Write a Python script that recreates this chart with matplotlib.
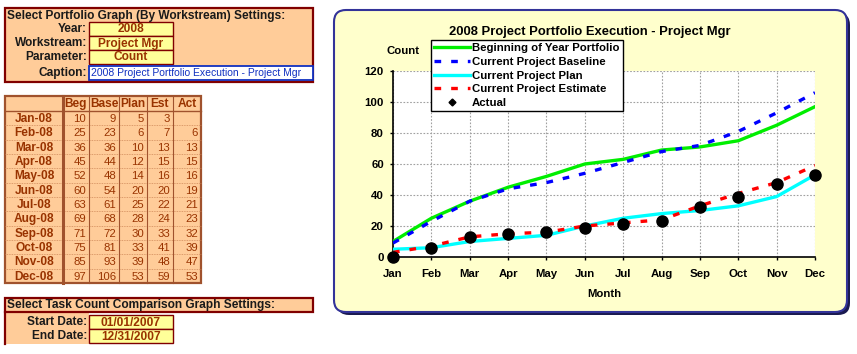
import matplotlib
matplotlib.use("Agg")
import matplotlib.pyplot as plt
from matplotlib.patches import Rectangle, FancyBboxPatch
from matplotlib.lines import Line2D

# settings shown in the left panel
year = "2008"
workstream = "Project Mgr"
parameter = "Count"
start_date = "01/01/2007"
end_date = "12/31/2007"
caption = f"{year} Project Portfolio Execution - {workstream}"

# table / chart data
months = ["Jan", "Feb", "Mar", "Apr", "May", "Jun", "Jul", "Aug", "Sep", "Oct", "Nov", "Dec"]
row_labels = [m + "-08" for m in months]
col_names = ["Beg", "Base", "Plan", "Est", "Act"]
beg = [10, 25, 36, 45, 52, 60, 63, 69, 71, 75, 85, 97]
base = [9, 23, 36, 44, 48, 54, 61, 68, 72, 81, 93, 106]
plan = [5, 6, 10, 12, 14, 20, 25, 28, 30, 33, 39, 53]
est = [3, 7, 13, 15, 16, 20, 22, 24, 33, 41, 48, 59]
act = [None, 6, 13, 15, 16, 19, 21, 23, 32, 39, 47, 53]

plt.rcParams["font.family"] = ["Liberation Sans", "DejaVu Sans"]
plt.rcParams["font.weight"] = "bold"

W, H = 857, 354
fig = plt.figure(figsize=(W / 100, H / 100), dpi=100)
fig.patch.set_facecolor("white")

# background axes in pixel coordinates for the worksheet part
bg = fig.add_axes([0, 0, 1, 1])
bg.set_xlim(0, W)
bg.set_ylim(H, 0)
bg.axis("off")

PEACH = "#FFCC99"
YELLOW = "#FFFF99"
DKRED = "#800000"
BROWN = "#993300"
TXT = "#1a1a1a"
FS = 8.6


def box(x0, y0, x1, y1, fc, ec, lw=1.0, z=1):
    bg.add_patch(Rectangle((x0, y0), x1 - x0, y1 - y0, fc=fc, ec=ec, lw=lw, zorder=z))


# ---- settings box
box(5, 8, 313, 82, PEACH, DKRED, 1.6)
bg.text(7, 15.5, "Select Portfolio Graph (By Workstream) Settings:", fontsize=FS,
        color=TXT, va="center", ha="left")
labels = ["Year:", "Workstream:", "Parameter:"]
values = [year, workstream, parameter]
for i, (lab, val) in enumerate(zip(labels, values)):
    y0 = 22 + i * 14
    box(89, y0, 173, y0 + 14, YELLOW, DKRED, 1.0, z=2)
    bg.text(87, y0 + 7.3, lab, fontsize=FS, color=TXT, ha="right", va="center")
    bg.text(131, y0 + 7.5, val, fontsize=FS, color=BROWN, ha="center", va="center")
box(89, 66, 313, 80, "white", "#1030C0", 1.3, z=2)
bg.text(87, 73.3, "Caption:", fontsize=FS, color=TXT, ha="right", va="center")
bg.text(91, 73.5, caption, fontsize=7.5, color="#1030C0", ha="left", va="center",
        fontweight="normal", zorder=3)

# ---- data table
col_edges = [5, 63, 89, 119, 147, 173, 201]
top, head_bot, bot = 96, 111, 283
row_h = (bot - head_bot) / len(months)
box(5, top, 201, bot, PEACH, "#A0522D", 1.6)
bg.plot([5, 201], [head_bot, head_bot], color="#A0522D", lw=1.0, zorder=2)
for i in range(1, len(months)):
    y = head_bot + i * row_h
    bg.plot([5, 201], [y, y], color="#D08A5A", lw=0.6, ls=(0, (1, 1)), zorder=2)
for j, x in enumerate(col_edges[1:-1]):
    bg.plot([x, x], [top, bot], color="#A0522D", lw=2.2 if j == 0 else 0.8, zorder=2)
for j, name in enumerate(col_names):
    xc = (col_edges[j + 1] + col_edges[j + 2]) / 2
    bg.text(xc, (top + head_bot) / 2 + 0.7, name, fontsize=FS, color=BROWN,
            ha="center", va="center")
columns = [beg, base, plan, est, act]
for i, lab in enumerate(row_labels):
    yc = head_bot + (i + 0.5) * row_h + 0.7
    bg.text(34, yc, lab, fontsize=FS, color=BROWN, ha="center", va="center")
    for j, col in enumerate(columns):
        if col[i] is None:
            continue
        bg.text(col_edges[j + 2] - 3, yc, str(col[i]), fontsize=8.2, color=BROWN,
                ha="right", va="center", fontweight="normal")

# ---- date settings box
box(5, 312, 89, 344, PEACH, "none", 0)
bg.plot([5, 5], [312, 344], color=DKRED, lw=1.6, zorder=2)
box(5, 298, 313, 312, PEACH, DKRED, 1.6)
bg.text(7, 305.3, "Select Task Count Comparison Graph Settings:", fontsize=FS,
        color=TXT, ha="left", va="center")
for i, (lab, val) in enumerate([("Start Date:", start_date), ("End Date:", end_date)]):
    y0 = 315 + i * 14
    box(89, y0, 173, y0 + 14, YELLOW, DKRED, 1.0, z=2)
    bg.text(87, y0 + 7.3, lab, fontsize=FS, color=TXT, ha="right", va="center")
    bg.text(131, y0 + 7.5, val, fontsize=FS, color=BROWN, ha="center", va="center")

# ---- chart panel
bg.add_patch(FancyBboxPatch((337, 13), 513, 302, boxstyle="round,pad=0,rounding_size=12",
                            fc="#1a1a50", ec="none", zorder=1))
bg.add_patch(FancyBboxPatch((334, 10), 513, 302, boxstyle="round,pad=0,rounding_size=12",
                            fc="#FFFFCC", ec="#333399", lw=1.5, zorder=2))
bg.text(590, 32, caption, fontsize=9.4, color="black", ha="center", va="center", zorder=3)
bg.text(403, 51, parameter, fontsize=8.2, color="black", ha="center", va="center", zorder=3)
bg.text(604, 294, "Month", fontsize=8.2, color="black", ha="center", va="center", zorder=3)

ax = fig.add_axes([393 / W, (H - 257) / H, (815 - 393) / W, (257 - 71) / H])
ax.set_facecolor("white")
x = list(range(len(months)))
ax.plot(x, beg, color="#00EE00", lw=2.4, zorder=3)
ax.plot(x, base, color="#0000FF", lw=2.4, dashes=(2, 3), zorder=3)
ax.plot(x, plan, color="#00FFFF", lw=2.4, zorder=3)
ax.plot(x, est, color="#FF0000", lw=2.4, dashes=(2, 3), zorder=3)
act_plot = [0 if v is None else v for v in act]
ax.plot(x, act_plot, "o", color="black", ms=8, zorder=4, clip_on=False)

ax.set_xlim(0, 11)
ax.set_ylim(0, 120)
ax.set_xticks(x)
ax.set_xticklabels(months)
ax.set_yticks(range(0, 121, 20))
ax.tick_params(axis="both", length=2.5, width=1, labelsize=8.2, pad=4)
ax.tick_params(axis="x", pad=6)
ax.grid(True, color="#A0A0A0", ls=(0, (1.5, 1.5)), lw=0.8)
for s in ["top", "right"]:
    ax.spines[s].set_visible(False)
for s in ["left", "bottom"]:
    ax.spines[s].set_linewidth(1.2)

handles = [
    Line2D([], [], color="#00EE00", lw=2.4),
    Line2D([], [], color="#0000FF", lw=2.4, dashes=(2, 3)),
    Line2D([], [], color="#00FFFF", lw=2.4),
    Line2D([], [], color="#FF0000", lw=2.4, dashes=(2, 3)),
    Line2D([], [], color="black", marker="D", ms=3.5, ls="none"),
]
names = ["Beginning of Year Portfolio", "Current Project Baseline", "Current Project Plan",
         "Current Project Estimate", "Actual"]
leg = ax.legend(handles, names, loc="upper left", bbox_to_anchor=(431 / W, (H - 40) / H),
                bbox_transform=fig.transFigure, borderaxespad=0, fancybox=False,
                framealpha=1, edgecolor="black", prop={"size": 8.2, "weight": "bold"},
                handlelength=3.1, handletextpad=0.2, labelspacing=0.32, borderpad=0.3)
leg.get_frame().set_linewidth(1.0)
leg.set_zorder(10)

fig.savefig("out.png", dpi=100)
